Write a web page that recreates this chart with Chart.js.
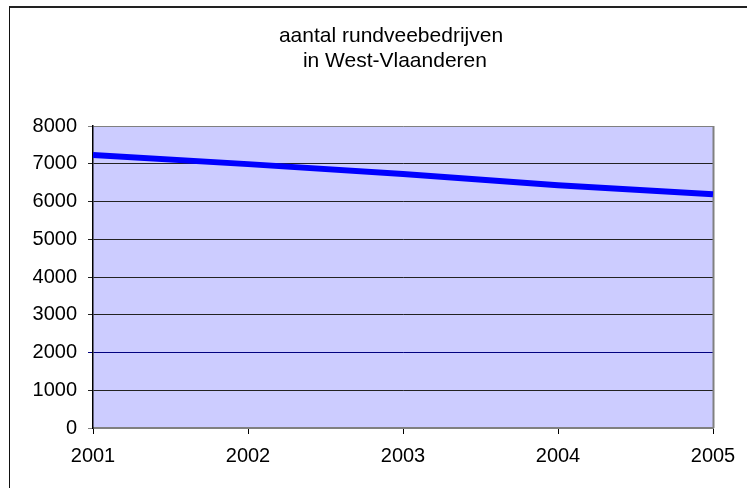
<!DOCTYPE html>
<html>
<head>
<meta charset="utf-8">
<script src="https://cdn.jsdelivr.net/npm/chart.js@4/dist/chart.umd.min.js"></script>
<style>
  html, body { margin: 0; padding: 0; background: #fff; overflow: hidden; }
  #wrap { position: relative; width: 747px; height: 488px; }
  #frame { position: absolute; left: 9px; top: 6px; width: 800px; height: 600px;
           border-left: 1.5px solid #111; border-top: 2px solid #222; pointer-events: none; }
  canvas { position: absolute; left: 0; top: 0; }
</style>
</head>
<body>
<div id="wrap">
  <canvas id="c" width="747" height="488"></canvas>
  <div id="frame"></div>
</div>
<script>
// Number of cattle farms in West Flanders per year
const years = ['2001', '2002', '2003', '2004', '2005'];
const cattleFarms = [7230, 6990, 6730, 6430, 6190];
const yTicks = [0, 1000, 2000, 3000, 4000, 5000, 6000, 7000, 8000];
const titleLines = ['aantal rundveebedrijven', ' in West-Vlaanderen'];

const FONT = '"Liberation Sans", Arial, sans-serif';

// Lavender plot background, right border and the two-line heading
const decor = {
  id: 'decor',
  beforeDraw(chart) {
    const { ctx, chartArea: a } = chart;
    ctx.save();
    ctx.fillStyle = '#CCCCFF';
    ctx.fillRect(a.left, a.top, a.right - a.left, a.bottom - a.top);
    ctx.restore();
  },
  beforeDatasetsDraw(chart) {
    const { ctx, chartArea: a } = chart;
    ctx.save();
    ctx.strokeStyle = '#808080';
    ctx.lineWidth = 2;
    ctx.beginPath();
    ctx.moveTo(a.right + 0.5, a.top);
    ctx.lineTo(a.right + 0.5, a.bottom);
    ctx.stroke();
    ctx.restore();
  },
  afterDraw(chart) {
    const { ctx } = chart;
    ctx.save();
    ctx.fillStyle = '#000';
    ctx.font = '21px ' + FONT;
    ctx.textAlign = 'center';
    ctx.textBaseline = 'middle';
    ctx.fillText(titleLines[0], 391, 36);
    ctx.fillText(titleLines[1], 392, 61);
    ctx.restore();
  }
};

new Chart(document.getElementById('c'), {
  type: 'line',
  data: {
    labels: years,
    datasets: [{
      data: cattleFarms,
      borderColor: '#0000FF',
      borderWidth: 6,
      pointRadius: 0,
      tension: 0,
      fill: false
    }]
  },
  options: {
    responsive: false,
    animation: false,
    layout: { padding: { top: 126, right: 34, left: 0, bottom: 0 } },
    plugins: { legend: { display: false }, title: { display: false }, tooltip: { enabled: false } },
    scales: {
      x: {
        offset: false,
        grid: { drawOnChartArea: false, color: '#000', tickLength: 6 },
        border: { color: '#808080', width: 2 },
        ticks: { color: '#000', font: { family: FONT, size: 20 }, padding: 10, maxRotation: 0 },
        afterFit(scale) { scale.height = 60; }
      },
      y: {
        min: 0,
        max: 8000,
        afterBuildTicks(scale) { scale.ticks = yTicks.map(v => ({ value: v })); },
        grid: {
          tickLength: 5,
          color(ctx) {
            const v = ctx.tick && ctx.tick.value;
            if (v === 2000) return '#000080';
            if (v === 8000 || v === 0) return '#808080';
            return '#222';
          },
          lineWidth: 1
        },
        border: { color: '#000', width: 1.5 },
        ticks: {
          color: '#000',
          font: { family: FONT, size: 20 },
          padding: 11,
          callback: v => String(v)
        },
        afterFit(scale) { scale.width = 93; }
      }
    }
  },
  plugins: [decor]
});
</script>
</body>
</html>
